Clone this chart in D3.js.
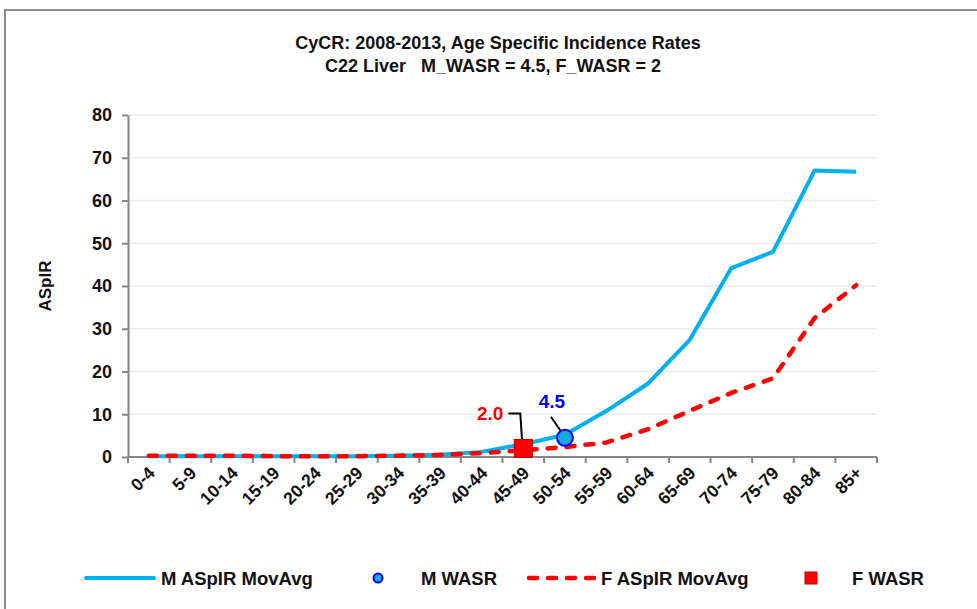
<!DOCTYPE html>
<html>
  <head>
    <meta charset="utf-8">
    <title>CyCR Age Specific Incidence Rates - C22 Liver</title>
    <script src="https://d3js.org/d3.v7.min.js"></script>
    <style>
      body { margin: 0; background: #fff; }
      svg { font-family: "Liberation Sans", Arial, sans-serif; font-weight: bold; }
    </style>
  </head>
  <body>
    <svg id="chart" width="977" height="609"></svg>
    <script>
      // chart data
      ageGroups = ["0-4", "5-9", "10-14", "15-19", "20-24", "25-29", "30-34", "35-39", "40-44",
        "45-49", "50-54", "55-59", "60-64", "65-69", "70-74", "75-79", "80-84", "85+"];
      maleRates = [0.2, 0.2, 0.2, 0.2, 0.2, 0.2, 0.3, 0.5, 1.2, 3.0, 5.2, 10.8, 17.2, 27.4, 44.2, 48.0, 67.0, 66.7];
      femaleRates = [0.3, 0.3, 0.3, 0.2, 0.2, 0.2, 0.3, 0.5, 0.9, 1.6, 2.3, 3.4, 6.5, 10.8, 15.0, 18.4, 32.5, 40.2];
      maleWasr = { group: "50-54", value: 4.5 };
      femaleWasr = { group: "45-49", value: 2.0 };
      yTicks = [0, 10, 20, 30, 40, 50, 60, 70, 80];

      chart = d3.select("#chart");
      margin = { top: 115, right: 100, bottom: 152, left: 128 };
      width = 977;
      height = 609;
      ink = "#111";

      // outer frame
      chart.append("path")
        .attr("d", "M5,620 L5,10 L990,10")
        .attr("fill", "none")
        .attr("stroke", "#8c8c8c")
        .attr("stroke-width", 2);

      // title
      title = chart.append("text")
        .attr("text-anchor", "middle")
        .attr("font-size", 18)
        .attr("fill", ink);
      title.append("tspan").attr("x", 498).attr("y", 49)
        .text("CyCR: 2008-2013, Age Specific Incidence Rates");
      title.append("tspan").attr("x", 493).attr("y", 72)
        .attr("xml:space", "preserve")
        .text("C22 Liver   M_WASR = 4.5, F_WASR = 2");

      x = d3.scaleBand()
        .domain(ageGroups)
        .range([margin.left, width - margin.right]);
      y = d3.scaleLinear()
        .domain([0, 80])
        .range([height - margin.bottom, margin.top]);
      cx = function(g) { return x(g) + x.bandwidth() / 2; };

      // gridlines
      chart.append("g")
        .selectAll("line")
        .data(yTicks.slice(1))
        .join("line")
          .attr("x1", margin.left)
          .attr("x2", width - margin.right)
          .attr("y1", function(d) { return y(d); })
          .attr("y2", function(d) { return y(d); })
          .attr("stroke", "#ebebeb")
          .attr("stroke-width", 1.5);

      // y axis
      yAxis = d3.axisLeft(y)
        .tickValues(yTicks)
        .tickSize(6)
        .tickSizeOuter(0)
        .tickPadding(10);
      yAxisGroup = chart.append("g")
        .attr("transform", "translate(" + margin.left + ",0)")
        .call(yAxis);
      yAxisGroup.selectAll("text")
        .attr("font-size", 18)
        .attr("font-family", "'Liberation Sans', Arial, sans-serif")
        .attr("font-weight", "bold")
        .attr("fill", ink);
      yAxisGroup.selectAll("line, path")
        .attr("stroke", "#868686")
        .attr("stroke-width", 2);

      chart.append("text")
        .attr("transform", "translate(51," + y(40) + ") rotate(-90)")
        .attr("text-anchor", "middle")
        .attr("font-size", 17)
        .attr("fill", ink)
        .text("ASpIR");

      // x axis: ticks on band boundaries
      xAxisGroup = chart.append("g")
        .attr("transform", "translate(0," + y(0) + ")");
      xAxisGroup.append("line")
        .attr("x1", margin.left)
        .attr("x2", width - margin.right)
        .attr("stroke", "#868686")
        .attr("stroke-width", 2);
      xAxisGroup.selectAll(".tick")
        .data(ageGroups.concat([null]))
        .join("line")
          .attr("class", "tick")
          .attr("x1", function(d, i) { return margin.left + i * x.bandwidth(); })
          .attr("x2", function(d, i) { return margin.left + i * x.bandwidth(); })
          .attr("y1", 0)
          .attr("y2", 6)
          .attr("stroke", "#868686")
          .attr("stroke-width", 2);
      xAxisGroup.selectAll(".label")
        .data(ageGroups)
        .join("text")
          .attr("class", "label")
          .attr("text-anchor", "end")
          .attr("font-size", 17.5)
          .attr("fill", ink)
          .attr("transform", function(d) {
            return "translate(" + (cx(d) + 7) + ",17) rotate(-45)";
          })
          .text(function(d) { return d; });

      // lines
      line = d3.line()
        .x(function(d, i) { return cx(ageGroups[i]); })
        .y(function(d) { return y(d); });
      chart.append("path")
        .attr("d", line(maleRates))
        .attr("fill", "none")
        .attr("stroke", "#00b0f0")
        .attr("stroke-width", 4)
        .attr("stroke-linejoin", "round");
      chart.append("path")
        .attr("d", line(femaleRates))
        .attr("fill", "none")
        .attr("stroke", "#ff0000")
        .attr("stroke-width", 4.5)
        .attr("stroke-dasharray", "8,11")
        .attr("stroke-linecap", "round")
        .attr("stroke-linejoin", "round");

      // WASR markers and labels
      fx = cx(femaleWasr.group);
      fy = y(femaleWasr.value);
      mx = cx(maleWasr.group);
      my = y(maleWasr.value);
      chart.append("path")
        .attr("d", "M" + (fx - 15) + "," + (fy - 35) + " h12 L" + (fx - 1) + "," + (fy - 4))
        .attr("fill", "none")
        .attr("stroke", "#000")
        .attr("stroke-width", 2);
      chart.append("path")
        .attr("d", "M" + (mx - 14) + "," + (my - 21) + " L" + (mx - 3) + "," + (my - 5))
        .attr("fill", "none")
        .attr("stroke", "#000")
        .attr("stroke-width", 2);
      chart.append("rect")
        .attr("x", fx - 9)
        .attr("y", fy - 9)
        .attr("width", 18)
        .attr("height", 18)
        .attr("fill", "#ff0000")
        .attr("stroke", "#c00000")
        .attr("stroke-width", 1);
      chart.append("circle")
        .attr("cx", mx)
        .attr("cy", my)
        .attr("r", 8)
        .attr("fill", "#17a9e0")
        .attr("stroke", "#0000ff")
        .attr("stroke-width", 2);
      chart.append("text")
        .attr("x", fx - 20)
        .attr("y", fy - 28)
        .attr("text-anchor", "end")
        .attr("font-size", 19)
        .attr("fill", "#ff0000")
        .text(femaleWasr.value.toFixed(1));
      chart.append("text")
        .attr("x", mx - 13)
        .attr("y", my - 30)
        .attr("text-anchor", "middle")
        .attr("font-size", 19)
        .attr("fill", "#0000ff")
        .text(maleWasr.value.toFixed(1));

      // legend
      legend = chart.append("g").attr("transform", "translate(0,578)");
      legend.append("line")
        .attr("x1", 86).attr("x2", 154)
        .attr("stroke", "#00b0f0").attr("stroke-width", 4).attr("stroke-linecap", "round");
      legend.append("text").attr("x", 161).attr("y", 6.5).attr("font-size", 18.5)
        .attr("fill", ink).text("M ASpIR MovAvg");
      legend.append("circle")
        .attr("cx", 378).attr("r", 4.5)
        .attr("fill", "#17a9e0").attr("stroke", "#0000ff").attr("stroke-width", 2);
      legend.append("text").attr("x", 421).attr("y", 6.5).attr("font-size", 18.5)
        .attr("fill", ink).text("M WASR");
      legend.append("line")
        .attr("x1", 529).attr("x2", 594)
        .attr("stroke", "#ff0000").attr("stroke-width", 4.5)
        .attr("stroke-dasharray", "8,11").attr("stroke-linecap", "round");
      legend.append("text").attr("x", 601).attr("y", 6.5).attr("font-size", 18.5)
        .attr("fill", ink).text("F ASpIR MovAvg");
      legend.append("rect")
        .attr("x", 805).attr("y", -6).attr("width", 12).attr("height", 12)
        .attr("fill", "#ff0000").attr("stroke", "#c00000").attr("stroke-width", 1);
      legend.append("text").attr("x", 852).attr("y", 6.5).attr("font-size", 18.5)
        .attr("fill", ink).text("F WASR");
    </script>
  </body>
</html>
